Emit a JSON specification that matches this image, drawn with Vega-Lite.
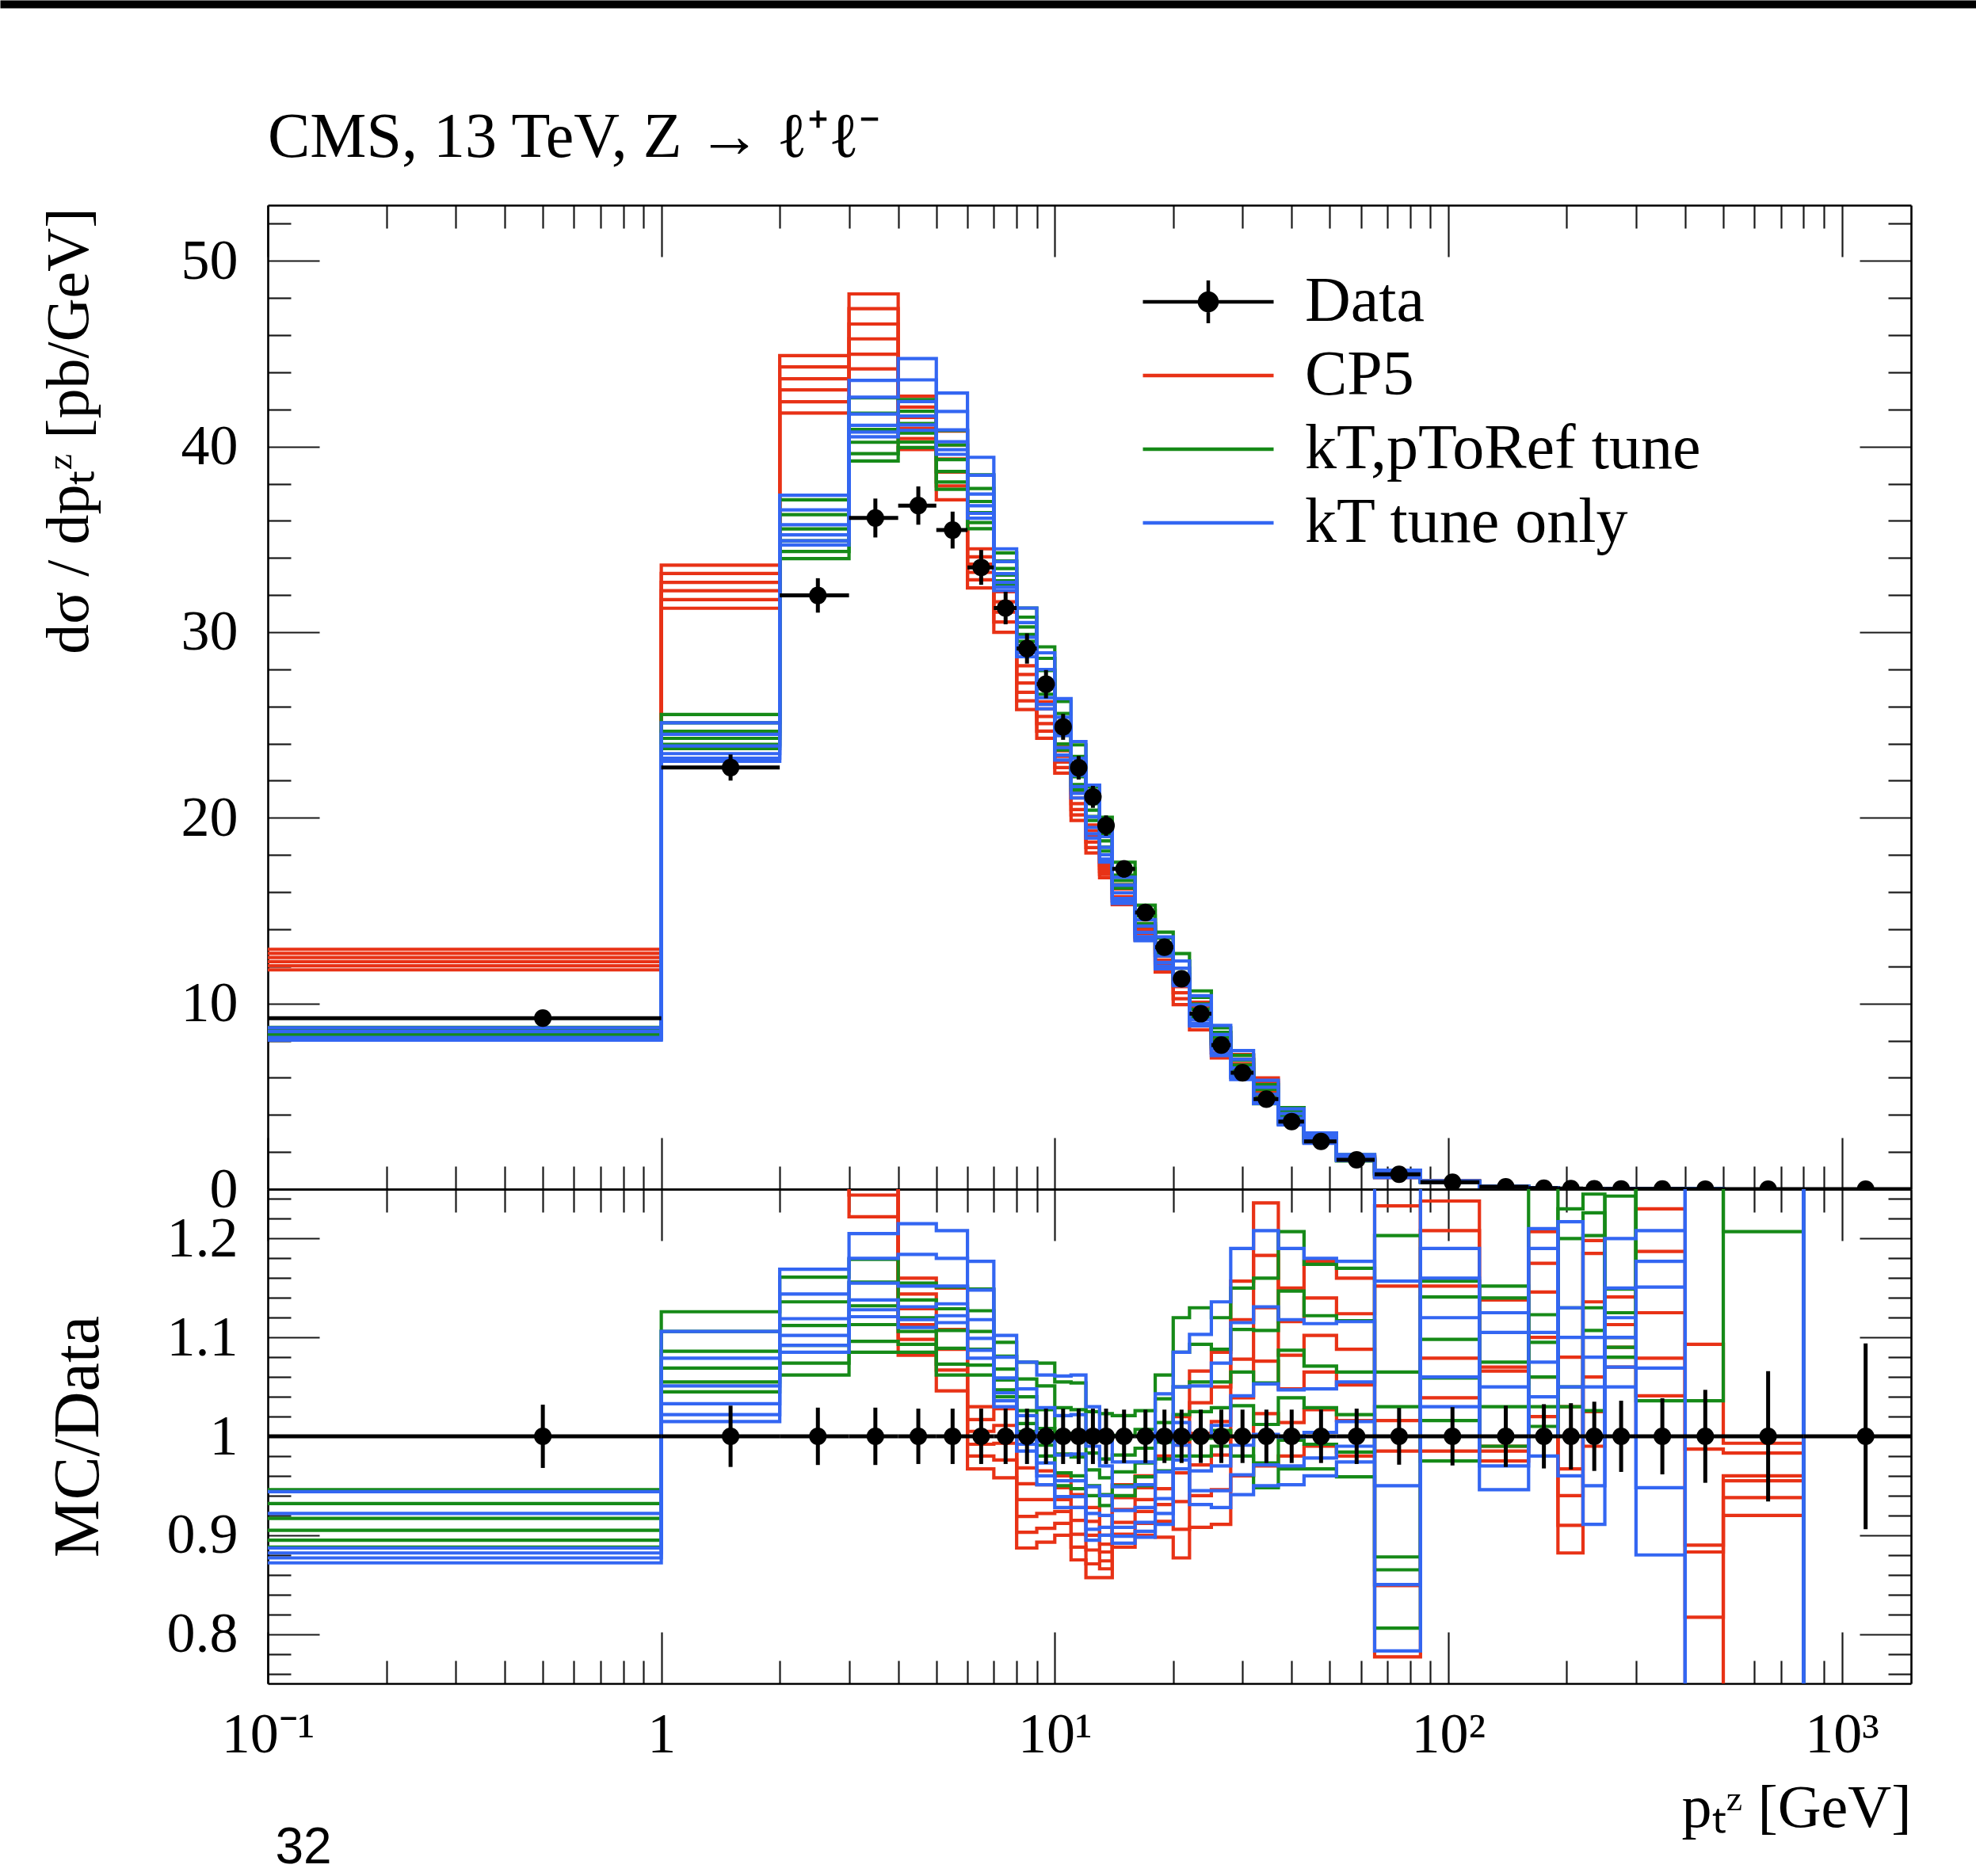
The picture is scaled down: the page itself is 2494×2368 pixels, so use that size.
{
  "$schema": "https://vega.github.io/schema/vega-lite/v6.json",
  "padding": {"left": 48, "top": 5, "right": 82, "bottom": 12},
  "background": "white",
  "bounds": "flush",
  "spacing": 0,
  "config": {
    "view": {"stroke": null},
    "font": "Liberation Serif",
    "axis": {
      "grid": false, "zindex": 1,
      "tickColor": "#1a1a1a", "tickWidth": 2.2,
      "domainColor": "black", "domainWidth": 2.6,
      "labelFont": "Liberation Serif", "labelFontSize": 72, "labelColor": "black",
      "labelFlush": false, "labelOverlap": false, "labelBound": false,
      "titleFont": "Liberation Serif", "titleFontSize": 76, "titleFontWeight": "normal", "titleColor": "black", "titlePadding": 0
    }
  },
  "datasets": {
    "bins": [
      {"b":0,"lo":0.1,"hi":1,"mid":0.5,"val":9.21,"err":0.295,"r":1,"rerr":0.032},
      {"b":1,"lo":1,"hi":2,"mid":1.5,"val":22.71,"err":0.704,"r":1,"rerr":0.031},
      {"b":2,"lo":2,"hi":3,"mid":2.5,"val":31.98,"err":0.927,"r":1,"rerr":0.029},
      {"b":3,"lo":3,"hi":4,"mid":3.5,"val":36.15,"err":1.048,"r":1,"rerr":0.029},
      {"b":4,"lo":4,"hi":5,"mid":4.5,"val":36.82,"err":1.031,"r":1,"rerr":0.028},
      {"b":5,"lo":5,"hi":6,"mid":5.5,"val":35.5,"err":0.994,"r":1,"rerr":0.028},
      {"b":6,"lo":6,"hi":7,"mid":6.5,"val":33.49,"err":0.938,"r":1,"rerr":0.028},
      {"b":7,"lo":7,"hi":8,"mid":7.5,"val":31.3,"err":0.876,"r":1,"rerr":0.028},
      {"b":8,"lo":8,"hi":9,"mid":8.5,"val":29.12,"err":0.815,"r":1,"rerr":0.028},
      {"b":9,"lo":9,"hi":10,"mid":9.5,"val":27.2,"err":0.762,"r":1,"rerr":0.028},
      {"b":10,"lo":10,"hi":11,"mid":10.5,"val":24.9,"err":0.697,"r":1,"rerr":0.028},
      {"b":11,"lo":11,"hi":12,"mid":11.5,"val":22.7,"err":0.636,"r":1,"rerr":0.028},
      {"b":12,"lo":12,"hi":13,"mid":12.5,"val":21.13,"err":0.592,"r":1,"rerr":0.028},
      {"b":13,"lo":13,"hi":14,"mid":13.5,"val":19.58,"err":0.548,"r":1,"rerr":0.028},
      {"b":14,"lo":14,"hi":16,"mid":15,"val":17.25,"err":0.466,"r":1,"rerr":0.027},
      {"b":15,"lo":16,"hi":18,"mid":17,"val":14.9,"err":0.402,"r":1,"rerr":0.027},
      {"b":16,"lo":18,"hi":20,"mid":19,"val":13.03,"err":0.352,"r":1,"rerr":0.027},
      {"b":17,"lo":20,"hi":22,"mid":21,"val":11.33,"err":0.306,"r":1,"rerr":0.027},
      {"b":18,"lo":22,"hi":25,"mid":23.5,"val":9.45,"err":0.255,"r":1,"rerr":0.027},
      {"b":19,"lo":25,"hi":28,"mid":26.5,"val":7.76,"err":0.21,"r":1,"rerr":0.027},
      {"b":20,"lo":28,"hi":32,"mid":30,"val":6.27,"err":0.169,"r":1,"rerr":0.027},
      {"b":21,"lo":32,"hi":37,"mid":34.5,"val":4.85,"err":0.131,"r":1,"rerr":0.027},
      {"b":22,"lo":37,"hi":43,"mid":40,"val":3.64,"err":0.098,"r":1,"rerr":0.027},
      {"b":23,"lo":43,"hi":52,"mid":47.5,"val":2.57,"err":0.069,"r":1,"rerr":0.027},
      {"b":24,"lo":52,"hi":65,"mid":58.5,"val":1.58,"err":0.044,"r":1,"rerr":0.028},
      {"b":25,"lo":65,"hi":85,"mid":75,"val":0.8,"err":0.023,"r":1,"rerr":0.0287},
      {"b":26,"lo":85,"hi":120,"mid":102.5,"val":0.37,"err":0.011,"r":1,"rerr":0.0295},
      {"b":27,"lo":120,"hi":160,"mid":140,"val":0.13,"err":0.004,"r":1,"rerr":0.031},
      {"b":28,"lo":160,"hi":190,"mid":175,"val":0.055,"err":0.0018,"r":1,"rerr":0.0325},
      {"b":29,"lo":190,"hi":220,"mid":205,"val":0.033,"err":0.0011,"r":1,"rerr":0.0335},
      {"b":30,"lo":220,"hi":250,"mid":235,"val":0.021,"err":0.0007,"r":1,"rerr":0.035},
      {"b":31,"lo":250,"hi":300,"mid":275,"val":0.013,"err":0.0005,"r":1,"rerr":0.036},
      {"b":32,"lo":300,"hi":400,"mid":350,"val":0.0058,"err":0.0002,"r":1,"rerr":0.0385},
      {"b":33,"lo":400,"hi":500,"mid":450,"val":0.0022,"err":0.0001,"r":1,"rerr":0.047},
      {"b":34,"lo":500,"hi":800,"mid":650,"val":0.00075,"err":0.00005,"r":1,"rerr":0.066},
      {"b":35,"lo":800,"hi":1500,"mid":1150,"val":0.00006,"err":0.000006,"r":1,"rerr":0.094}
    ],
    "mc": [
      {"t":"CP5","v":1,"b":0,"y":12.92,"r":1.403},{"t":"CP5","v":1,"b":1,"y":33.61,"r":1.48},{"t":"CP5","v":1,"b":2,"y":44.9,"r":1.404},{"t":"CP5","v":1,"b":3,"y":48.22,"r":1.334},{"t":"CP5","v":1,"b":4,"y":42.71,"r":1.16},{"t":"CP5","v":1,"b":5,"y":40.83,"r":1.15},{"t":"CP5","v":1,"b":6,"y":34.49,"r":1.03},{"t":"CP5","v":1,"b":7,"y":32.74,"r":1.046},{"t":"CP5","v":1,"b":8,"y":28.19,"r":0.968},{"t":"CP5","v":1,"b":9,"y":26.25,"r":0.965},{"t":"CP5","v":1,"b":10,"y":23.9,"r":0.96},{"t":"CP5","v":1,"b":11,"y":21.36,"r":0.941},{"t":"CP5","v":1,"b":12,"y":19.61,"r":0.928},{"t":"CP5","v":1,"b":13,"y":17.62,"r":0.9},{"t":"CP5","v":1,"b":14,"y":16.4,"r":0.951},{"t":"CP5","v":1,"b":15,"y":14.3,"r":0.96},{"t":"CP5","v":1,"b":16,"y":12.77,"r":0.98},{"t":"CP5","v":1,"b":17,"y":11.56,"r":1.02},{"t":"CP5","v":1,"b":18,"y":10.07,"r":1.066},{"t":"CP5","v":1,"b":19,"y":8.42,"r":1.085},{"t":"CP5","v":1,"b":20,"y":7.25,"r":1.157},{"t":"CP5","v":1,"b":21,"y":5.99,"r":1.236},{"t":"CP5","v":1,"b":22,"y":4.19,"r":1.15},{"t":"CP5","v":1,"b":23,"y":3.02,"r":1.177},{"t":"CP5","v":1,"b":24,"y":1.83,"r":1.16},{"t":"CP5","v":1,"b":25,"y":0.813,"r":1.016},{"t":"CP5","v":1,"b":26,"y":0.399,"r":1.079},{"t":"CP5","v":1,"b":27,"y":0.128,"r":0.985},{"t":"CP5","v":1,"b":28,"y":0.063,"r":1.146},{"t":"CP5","v":1,"b":29,"y":0.03,"r":0.91},{"t":"CP5","v":1,"b":30,"y":0.024,"r":1.136},{"t":"CP5","v":1,"b":31,"y":0.0142,"r":1.09},{"t":"CP5","v":1,"b":32,"y":0.00604,"r":1.041},{"t":"CP5","v":1,"b":33,"y":0.0024,"r":1.093},{"t":"CP5","v":1,"b":34,"y":0.000745,"r":0.993},{"t":"CP5","v":1,"b":35,"y":0,"r":0},
      {"t":"CP5","v":2,"b":0,"y":12.7,"r":1.379},{"t":"CP5","v":2,"b":1,"y":33.16,"r":1.46},{"t":"CP5","v":2,"b":2,"y":44.29,"r":1.385},{"t":"CP5","v":2,"b":3,"y":47.43,"r":1.312},{"t":"CP5","v":2,"b":4,"y":42.12,"r":1.144},{"t":"CP5","v":2,"b":5,"y":40.08,"r":1.129},{"t":"CP5","v":2,"b":6,"y":34.06,"r":1.017},{"t":"CP5","v":2,"b":7,"y":32.18,"r":1.028},{"t":"CP5","v":2,"b":8,"y":27.72,"r":0.952},{"t":"CP5","v":2,"b":9,"y":25.87,"r":0.951},{"t":"CP5","v":2,"b":10,"y":23.61,"r":0.948},{"t":"CP5","v":2,"b":11,"y":21.07,"r":0.928},{"t":"CP5","v":2,"b":12,"y":19.31,"r":0.914},{"t":"CP5","v":2,"b":13,"y":17.45,"r":0.891},{"t":"CP5","v":2,"b":14,"y":16.18,"r":0.938},{"t":"CP5","v":2,"b":15,"y":14.13,"r":0.948},{"t":"CP5","v":2,"b":16,"y":12.56,"r":0.964},{"t":"CP5","v":2,"b":17,"y":11.23,"r":0.991},{"t":"CP5","v":2,"b":18,"y":9.77,"r":1.034},{"t":"CP5","v":2,"b":19,"y":8.15,"r":1.05},{"t":"CP5","v":2,"b":20,"y":7.01,"r":1.118},{"t":"CP5","v":2,"b":21,"y":5.74,"r":1.183},{"t":"CP5","v":2,"b":22,"y":4.06,"r":1.116},{"t":"CP5","v":2,"b":23,"y":2.93,"r":1.14},{"t":"CP5","v":2,"b":24,"y":1.78,"r":1.124},{"t":"CP5","v":2,"b":25,"y":0.986,"r":1.233},{"t":"CP5","v":2,"b":26,"y":0.364,"r":0.985},{"t":"CP5","v":2,"b":27,"y":0.139,"r":1.066},{"t":"CP5","v":2,"b":28,"y":0.056,"r":1.02},{"t":"CP5","v":2,"b":29,"y":0.036,"r":1.08},{"t":"CP5","v":2,"b":30,"y":0.021,"r":0.99},{"t":"CP5","v":2,"b":31,"y":0.0148,"r":1.141},{"t":"CP5","v":2,"b":32,"y":0.00713,"r":1.23},{"t":"CP5","v":2,"b":33,"y":0.00217,"r":0.987},{"t":"CP5","v":2,"b":34,"y":0.000737,"r":0.983},{"t":"CP5","v":2,"b":35,"y":0,"r":0},
      {"t":"CP5","v":3,"b":0,"y":12.48,"r":1.355},{"t":"CP5","v":3,"b":1,"y":32.68,"r":1.439},{"t":"CP5","v":3,"b":2,"y":43.65,"r":1.365},{"t":"CP5","v":3,"b":3,"y":46.6,"r":1.289},{"t":"CP5","v":3,"b":4,"y":41.57,"r":1.129},{"t":"CP5","v":3,"b":5,"y":39.33,"r":1.108},{"t":"CP5","v":3,"b":6,"y":33.66,"r":1.005},{"t":"CP5","v":3,"b":7,"y":31.64,"r":1.011},{"t":"CP5","v":3,"b":8,"y":27.26,"r":0.936},{"t":"CP5","v":3,"b":9,"y":25.46,"r":0.936},{"t":"CP5","v":3,"b":10,"y":23.31,"r":0.936},{"t":"CP5","v":3,"b":11,"y":20.77,"r":0.915},{"t":"CP5","v":3,"b":12,"y":19.02,"r":0.9},{"t":"CP5","v":3,"b":13,"y":17.29,"r":0.883},{"t":"CP5","v":3,"b":14,"y":15.97,"r":0.926},{"t":"CP5","v":3,"b":15,"y":13.95,"r":0.936},{"t":"CP5","v":3,"b":16,"y":12.34,"r":0.947},{"t":"CP5","v":3,"b":17,"y":10.91,"r":0.963},{"t":"CP5","v":3,"b":18,"y":9.48,"r":1.003},{"t":"CP5","v":3,"b":19,"y":7.88,"r":1.015},{"t":"CP5","v":3,"b":20,"y":6.76,"r":1.078},{"t":"CP5","v":3,"b":21,"y":5.48,"r":1.13},{"t":"CP5","v":3,"b":22,"y":3.94,"r":1.082},{"t":"CP5","v":3,"b":23,"y":2.83,"r":1.102},{"t":"CP5","v":3,"b":24,"y":1.72,"r":1.088},{"t":"CP5","v":3,"b":25,"y":0.679,"r":0.849},{"t":"CP5","v":3,"b":26,"y":0.447,"r":1.208},{"t":"CP5","v":3,"b":27,"y":0.127,"r":0.975},{"t":"CP5","v":3,"b":28,"y":0.066,"r":1.207},{"t":"CP5","v":3,"b":29,"y":0.029,"r":0.882},{"t":"CP5","v":3,"b":30,"y":0.025,"r":1.198},{"t":"CP5","v":3,"b":31,"y":0.0139,"r":1.07},{"t":"CP5","v":3,"b":32,"y":0.0058,"r":1},{"t":"CP5","v":3,"b":33,"y":0.00196,"r":0.89},{"t":"CP5","v":3,"b":34,"y":0.00072,"r":0.96},{"t":"CP5","v":3,"b":35,"y":0,"r":0},
      {"t":"CP5","v":4,"b":0,"y":12.25,"r":1.33},{"t":"CP5","v":4,"b":1,"y":32.23,"r":1.419},{"t":"CP5","v":4,"b":2,"y":43.05,"r":1.346},{"t":"CP5","v":4,"b":3,"y":45.8,"r":1.267},{"t":"CP5","v":4,"b":4,"y":40.98,"r":1.113},{"t":"CP5","v":4,"b":5,"y":38.62,"r":1.088},{"t":"CP5","v":4,"b":6,"y":33.22,"r":0.992},{"t":"CP5","v":4,"b":7,"y":31.08,"r":0.993},{"t":"CP5","v":4,"b":8,"y":26.76,"r":0.919},{"t":"CP5","v":4,"b":9,"y":25.08,"r":0.922},{"t":"CP5","v":4,"b":10,"y":23.01,"r":0.924},{"t":"CP5","v":4,"b":11,"y":20.45,"r":0.901},{"t":"CP5","v":4,"b":12,"y":18.7,"r":0.885},{"t":"CP5","v":4,"b":13,"y":17.11,"r":0.874},{"t":"CP5","v":4,"b":14,"y":15.75,"r":0.913},{"t":"CP5","v":4,"b":15,"y":13.77,"r":0.924},{"t":"CP5","v":4,"b":16,"y":12.13,"r":0.931},{"t":"CP5","v":4,"b":17,"y":10.58,"r":0.934},{"t":"CP5","v":4,"b":18,"y":9.18,"r":0.971},{"t":"CP5","v":4,"b":19,"y":7.61,"r":0.981},{"t":"CP5","v":4,"b":20,"y":6.51,"r":1.039},{"t":"CP5","v":4,"b":21,"y":5.22,"r":1.076},{"t":"CP5","v":4,"b":22,"y":3.81,"r":1.048},{"t":"CP5","v":4,"b":23,"y":2.74,"r":1.065},{"t":"CP5","v":4,"b":24,"y":1.66,"r":1.052},{"t":"CP5","v":4,"b":25,"y":0.922,"r":1.152},{"t":"CP5","v":4,"b":26,"y":0.384,"r":1.039},{"t":"CP5","v":4,"b":27,"y":0.148,"r":1.138},{"t":"CP5","v":4,"b":28,"y":0.058,"r":1.06},{"t":"CP5","v":4,"b":29,"y":0.032,"r":0.967},{"t":"CP5","v":4,"b":30,"y":0.022,"r":1.025},{"t":"CP5","v":4,"b":31,"y":0.0145,"r":1.113},{"t":"CP5","v":4,"b":32,"y":0.00688,"r":1.187},{"t":"CP5","v":4,"b":33,"y":0.0018,"r":0.817},{"t":"CP5","v":4,"b":34,"y":0.000716,"r":0.955},{"t":"CP5","v":4,"b":35,"y":0,"r":0},
      {"t":"CP5","v":5,"b":0,"y":12.03,"r":1.306},{"t":"CP5","v":5,"b":1,"y":31.75,"r":1.398},{"t":"CP5","v":5,"b":2,"y":42.41,"r":1.326},{"t":"CP5","v":5,"b":3,"y":44.97,"r":1.244},{"t":"CP5","v":5,"b":4,"y":40.43,"r":1.098},{"t":"CP5","v":5,"b":5,"y":37.88,"r":1.067},{"t":"CP5","v":5,"b":6,"y":32.82,"r":0.98},{"t":"CP5","v":5,"b":7,"y":30.55,"r":0.976},{"t":"CP5","v":5,"b":8,"y":26.3,"r":0.903},{"t":"CP5","v":5,"b":9,"y":24.67,"r":0.907},{"t":"CP5","v":5,"b":10,"y":22.71,"r":0.912},{"t":"CP5","v":5,"b":11,"y":20.16,"r":0.888},{"t":"CP5","v":5,"b":12,"y":18.4,"r":0.871},{"t":"CP5","v":5,"b":13,"y":16.96,"r":0.866},{"t":"CP5","v":5,"b":14,"y":15.54,"r":0.901},{"t":"CP5","v":5,"b":15,"y":13.59,"r":0.912},{"t":"CP5","v":5,"b":16,"y":11.91,"r":0.914},{"t":"CP5","v":5,"b":17,"y":10.26,"r":0.906},{"t":"CP5","v":5,"b":18,"y":8.88,"r":0.94},{"t":"CP5","v":5,"b":19,"y":7.34,"r":0.946},{"t":"CP5","v":5,"b":20,"y":6.26,"r":0.999},{"t":"CP5","v":5,"b":21,"y":4.96,"r":1.023},{"t":"CP5","v":5,"b":22,"y":3.69,"r":1.014},{"t":"CP5","v":5,"b":23,"y":2.64,"r":1.027},{"t":"CP5","v":5,"b":24,"y":1.61,"r":1.016},{"t":"CP5","v":5,"b":25,"y":0.622,"r":0.777},{"t":"CP5","v":5,"b":26,"y":0.458,"r":1.238},{"t":"CP5","v":5,"b":27,"y":0.129,"r":0.99},{"t":"CP5","v":5,"b":28,"y":0.065,"r":1.175},{"t":"CP5","v":5,"b":29,"y":0.034,"r":1.03},{"t":"CP5","v":5,"b":30,"y":0.025,"r":1.185},{"t":"CP5","v":5,"b":31,"y":0.014,"r":1.08},{"t":"CP5","v":5,"b":32,"y":0.00626,"r":1.079},{"t":"CP5","v":5,"b":33,"y":0.00194,"r":0.883},{"t":"CP5","v":5,"b":34,"y":0.000704,"r":0.938},{"t":"CP5","v":5,"b":35,"y":0,"r":0},
      {"t":"CP5","v":6,"b":0,"y":11.81,"r":1.282},{"t":"CP5","v":6,"b":1,"y":31.29,"r":1.378},{"t":"CP5","v":6,"b":2,"y":41.8,"r":1.307},{"t":"CP5","v":6,"b":3,"y":44.18,"r":1.222},{"t":"CP5","v":6,"b":4,"y":39.84,"r":1.082},{"t":"CP5","v":6,"b":5,"y":37.13,"r":1.046},{"t":"CP5","v":6,"b":6,"y":32.38,"r":0.967},{"t":"CP5","v":6,"b":7,"y":29.99,"r":0.958},{"t":"CP5","v":6,"b":8,"y":25.83,"r":0.887},{"t":"CP5","v":6,"b":9,"y":24.29,"r":0.893},{"t":"CP5","v":6,"b":10,"y":22.41,"r":0.9},{"t":"CP5","v":6,"b":11,"y":19.86,"r":0.875},{"t":"CP5","v":6,"b":12,"y":18.11,"r":0.857},{"t":"CP5","v":6,"b":13,"y":16.78,"r":0.857},{"t":"CP5","v":6,"b":14,"y":15.32,"r":0.888},{"t":"CP5","v":6,"b":15,"y":13.41,"r":0.9},{"t":"CP5","v":6,"b":16,"y":11.7,"r":0.898},{"t":"CP5","v":6,"b":17,"y":9.94,"r":0.877},{"t":"CP5","v":6,"b":18,"y":8.58,"r":0.908},{"t":"CP5","v":6,"b":19,"y":7.07,"r":0.911},{"t":"CP5","v":6,"b":20,"y":6.02,"r":0.96},{"t":"CP5","v":6,"b":21,"y":4.7,"r":0.97},{"t":"CP5","v":6,"b":22,"y":3.57,"r":0.98},{"t":"CP5","v":6,"b":23,"y":2.54,"r":0.99},{"t":"CP5","v":6,"b":24,"y":1.55,"r":0.98},{"t":"CP5","v":6,"b":25,"y":0.788,"r":0.985},{"t":"CP5","v":6,"b":26,"y":0.426,"r":1.152},{"t":"CP5","v":6,"b":27,"y":0.139,"r":1.07},{"t":"CP5","v":6,"b":28,"y":0.061,"r":1.1},{"t":"CP5","v":6,"b":29,"y":0.031,"r":0.94},{"t":"CP5","v":6,"b":30,"y":0.022,"r":1.06},{"t":"CP5","v":6,"b":31,"y":0.0143,"r":1.1},{"t":"CP5","v":6,"b":32,"y":0.00653,"r":1.125},{"t":"CP5","v":6,"b":33,"y":0.00132,"r":0.6},{"t":"CP5","v":6,"b":34,"y":0.00069,"r":0.92},{"t":"CP5","v":6,"b":35,"y":0,"r":0},
      {"t":"kT,pToRef tune","v":1,"b":0,"y":8.71,"r":0.946},{"t":"kT,pToRef tune","v":1,"b":1,"y":25.57,"r":1.126},{"t":"kT,pToRef tune","v":1,"b":2,"y":37.13,"r":1.161},{"t":"kT,pToRef tune","v":1,"b":3,"y":42.62,"r":1.179},{"t":"kT,pToRef tune","v":1,"b":4,"y":42.53,"r":1.155},{"t":"kT,pToRef tune","v":1,"b":5,"y":40.86,"r":1.151},{"t":"kT,pToRef tune","v":1,"b":6,"y":38.48,"r":1.149},{"t":"kT,pToRef tune","v":1,"b":7,"y":34.27,"r":1.095},{"t":"kT,pToRef tune","v":1,"b":8,"y":31.3,"r":1.075},{"t":"kT,pToRef tune","v":1,"b":9,"y":29.21,"r":1.074},{"t":"kT,pToRef tune","v":1,"b":10,"y":26.27,"r":1.055},{"t":"kT,pToRef tune","v":1,"b":11,"y":23.93,"r":1.054},{"t":"kT,pToRef tune","v":1,"b":12,"y":21.66,"r":1.025},{"t":"kT,pToRef tune","v":1,"b":13,"y":20.03,"r":1.023},{"t":"kT,pToRef tune","v":1,"b":14,"y":17.61,"r":1.021},{"t":"kT,pToRef tune","v":1,"b":15,"y":15.29,"r":1.026},{"t":"kT,pToRef tune","v":1,"b":16,"y":13.84,"r":1.062},{"t":"kT,pToRef tune","v":1,"b":17,"y":12.69,"r":1.12},{"t":"kT,pToRef tune","v":1,"b":18,"y":10.68,"r":1.13},{"t":"kT,pToRef tune","v":1,"b":19,"y":8.69,"r":1.12},{"t":"kT,pToRef tune","v":1,"b":20,"y":7.21,"r":1.15},{"t":"kT,pToRef tune","v":1,"b":21,"y":5.63,"r":1.16},{"t":"kT,pToRef tune","v":1,"b":22,"y":4.39,"r":1.207},{"t":"kT,pToRef tune","v":1,"b":23,"y":3.02,"r":1.174},{"t":"kT,pToRef tune","v":1,"b":24,"y":1.85,"r":1.17},{"t":"kT,pToRef tune","v":1,"b":25,"y":0.852,"r":1.065},{"t":"kT,pToRef tune","v":1,"b":26,"y":0.422,"r":1.141},{"t":"kT,pToRef tune","v":1,"b":27,"y":0.15,"r":1.152},{"t":"kT,pToRef tune","v":1,"b":28,"y":0.057,"r":1.03},{"t":"kT,pToRef tune","v":1,"b":29,"y":0.04,"r":1.2},{"t":"kT,pToRef tune","v":1,"b":30,"y":0.026,"r":1.226},{"t":"kT,pToRef tune","v":1,"b":31,"y":0.0143,"r":1.1},{"t":"kT,pToRef tune","v":1,"b":32,"y":0.00754,"r":1.3},{"t":"kT,pToRef tune","v":1,"b":33,"y":0.00288,"r":1.31},{"t":"kT,pToRef tune","v":1,"b":34,"y":0.000905,"r":1.207},{"t":"kT,pToRef tune","v":1,"b":35,"y":0,"r":0},
      {"t":"kT,pToRef tune","v":2,"b":0,"y":8.58,"r":0.932},{"t":"kT,pToRef tune","v":2,"b":1,"y":25.12,"r":1.106},{"t":"kT,pToRef tune","v":2,"b":2,"y":36.33,"r":1.136},{"t":"kT,pToRef tune","v":2,"b":3,"y":41.79,"r":1.156},{"t":"kT,pToRef tune","v":2,"b":4,"y":41.9,"r":1.138},{"t":"kT,pToRef tune","v":2,"b":5,"y":40.08,"r":1.129},{"t":"kT,pToRef tune","v":2,"b":6,"y":37.74,"r":1.127},{"t":"kT,pToRef tune","v":2,"b":7,"y":33.84,"r":1.081},{"t":"kT,pToRef tune","v":2,"b":8,"y":30.81,"r":1.058},{"t":"kT,pToRef tune","v":2,"b":9,"y":28.59,"r":1.051},{"t":"kT,pToRef tune","v":2,"b":10,"y":25.62,"r":1.029},{"t":"kT,pToRef tune","v":2,"b":11,"y":23.31,"r":1.027},{"t":"kT,pToRef tune","v":2,"b":12,"y":21.21,"r":1.004},{"t":"kT,pToRef tune","v":2,"b":13,"y":19.58,"r":1},{"t":"kT,pToRef tune","v":2,"b":14,"y":17.27,"r":1.001},{"t":"kT,pToRef tune","v":2,"b":15,"y":15,"r":1.007},{"t":"kT,pToRef tune","v":2,"b":16,"y":13.53,"r":1.038},{"t":"kT,pToRef tune","v":2,"b":17,"y":12.29,"r":1.085},{"t":"kT,pToRef tune","v":2,"b":18,"y":10.33,"r":1.093},{"t":"kT,pToRef tune","v":2,"b":19,"y":8.44,"r":1.088},{"t":"kT,pToRef tune","v":2,"b":20,"y":6.95,"r":1.108},{"t":"kT,pToRef tune","v":2,"b":21,"y":5.37,"r":1.107},{"t":"kT,pToRef tune","v":2,"b":22,"y":4.18,"r":1.147},{"t":"kT,pToRef tune","v":2,"b":23,"y":2.88,"r":1.122},{"t":"kT,pToRef tune","v":2,"b":24,"y":1.76,"r":1.117},{"t":"kT,pToRef tune","v":2,"b":25,"y":0.702,"r":0.878},{"t":"kT,pToRef tune","v":2,"b":26,"y":0.376,"r":1.016},{"t":"kT,pToRef tune","v":2,"b":27,"y":0.13,"r":1},{"t":"kT,pToRef tune","v":2,"b":28,"y":0.07,"r":1.28},{"t":"kT,pToRef tune","v":2,"b":29,"y":0.035,"r":1.05},{"t":"kT,pToRef tune","v":2,"b":30,"y":0.023,"r":1.107},{"t":"kT,pToRef tune","v":2,"b":31,"y":0.0162,"r":1.243},{"t":"kT,pToRef tune","v":2,"b":32,"y":0.00601,"r":1.036},{"t":"kT,pToRef tune","v":2,"b":33,"y":0.00228,"r":1.036},{"t":"kT,pToRef tune","v":2,"b":34,"y":0.000975,"r":1.3},{"t":"kT,pToRef tune","v":2,"b":35,"y":0,"r":0},
      {"t":"kT,pToRef tune","v":3,"b":0,"y":8.45,"r":0.917},{"t":"kT,pToRef tune","v":3,"b":1,"y":24.66,"r":1.086},{"t":"kT,pToRef tune","v":3,"b":2,"y":35.56,"r":1.112},{"t":"kT,pToRef tune","v":3,"b":3,"y":40.92,"r":1.132},{"t":"kT,pToRef tune","v":3,"b":4,"y":41.24,"r":1.12},{"t":"kT,pToRef tune","v":3,"b":5,"y":39.3,"r":1.107},{"t":"kT,pToRef tune","v":3,"b":6,"y":37.04,"r":1.106},{"t":"kT,pToRef tune","v":3,"b":7,"y":33.43,"r":1.068},{"t":"kT,pToRef tune","v":3,"b":8,"y":30.28,"r":1.04},{"t":"kT,pToRef tune","v":3,"b":9,"y":27.93,"r":1.027},{"t":"kT,pToRef tune","v":3,"b":10,"y":24.97,"r":1.003},{"t":"kT,pToRef tune","v":3,"b":11,"y":22.72,"r":1.001},{"t":"kT,pToRef tune","v":3,"b":12,"y":20.77,"r":0.983},{"t":"kT,pToRef tune","v":3,"b":13,"y":19.13,"r":0.977},{"t":"kT,pToRef tune","v":3,"b":14,"y":16.92,"r":0.981},{"t":"kT,pToRef tune","v":3,"b":15,"y":14.72,"r":0.988},{"t":"kT,pToRef tune","v":3,"b":16,"y":13.21,"r":1.014},{"t":"kT,pToRef tune","v":3,"b":17,"y":11.9,"r":1.05},{"t":"kT,pToRef tune","v":3,"b":18,"y":9.97,"r":1.055},{"t":"kT,pToRef tune","v":3,"b":19,"y":8.19,"r":1.055},{"t":"kT,pToRef tune","v":3,"b":20,"y":6.68,"r":1.065},{"t":"kT,pToRef tune","v":3,"b":21,"y":5.11,"r":1.054},{"t":"kT,pToRef tune","v":3,"b":22,"y":3.96,"r":1.087},{"t":"kT,pToRef tune","v":3,"b":23,"y":2.75,"r":1.071},{"t":"kT,pToRef tune","v":3,"b":24,"y":1.68,"r":1.065},{"t":"kT,pToRef tune","v":3,"b":25,"y":0.962,"r":1.203},{"t":"kT,pToRef tune","v":3,"b":26,"y":0.361,"r":0.975},{"t":"kT,pToRef tune","v":3,"b":27,"y":0.14,"r":1.075},{"t":"kT,pToRef tune","v":3,"b":28,"y":0.058,"r":1.06},{"t":"kT,pToRef tune","v":3,"b":29,"y":0.041,"r":1.23},{"t":"kT,pToRef tune","v":3,"b":30,"y":0.026,"r":1.245},{"t":"kT,pToRef tune","v":3,"b":31,"y":0.014,"r":1.08},{"t":"kT,pToRef tune","v":3,"b":32,"y":0.00742,"r":1.28},{"t":"kT,pToRef tune","v":3,"b":33,"y":0.00286,"r":1.3},{"t":"kT,pToRef tune","v":3,"b":34,"y":0.00096,"r":1.28},{"t":"kT,pToRef tune","v":3,"b":35,"y":0,"r":0},
      {"t":"kT,pToRef tune","v":4,"b":0,"y":8.34,"r":0.905},{"t":"kT,pToRef tune","v":4,"b":1,"y":24.28,"r":1.069},{"t":"kT,pToRef tune","v":4,"b":2,"y":34.92,"r":1.092},{"t":"kT,pToRef tune","v":4,"b":3,"y":40.23,"r":1.113},{"t":"kT,pToRef tune","v":4,"b":4,"y":40.72,"r":1.106},{"t":"kT,pToRef tune","v":4,"b":5,"y":38.66,"r":1.089},{"t":"kT,pToRef tune","v":4,"b":6,"y":36.44,"r":1.088},{"t":"kT,pToRef tune","v":4,"b":7,"y":33.08,"r":1.057},{"t":"kT,pToRef tune","v":4,"b":8,"y":29.88,"r":1.026},{"t":"kT,pToRef tune","v":4,"b":9,"y":27.42,"r":1.008},{"t":"kT,pToRef tune","v":4,"b":10,"y":24.45,"r":0.982},{"t":"kT,pToRef tune","v":4,"b":11,"y":22.22,"r":0.979},{"t":"kT,pToRef tune","v":4,"b":12,"y":20.41,"r":0.966},{"t":"kT,pToRef tune","v":4,"b":13,"y":18.76,"r":0.958},{"t":"kT,pToRef tune","v":4,"b":14,"y":16.63,"r":0.964},{"t":"kT,pToRef tune","v":4,"b":15,"y":14.5,"r":0.973},{"t":"kT,pToRef tune","v":4,"b":16,"y":12.95,"r":0.994},{"t":"kT,pToRef tune","v":4,"b":17,"y":11.58,"r":1.022},{"t":"kT,pToRef tune","v":4,"b":18,"y":9.69,"r":1.025},{"t":"kT,pToRef tune","v":4,"b":19,"y":7.99,"r":1.029},{"t":"kT,pToRef tune","v":4,"b":20,"y":6.46,"r":1.031},{"t":"kT,pToRef tune","v":4,"b":21,"y":4.91,"r":1.012},{"t":"kT,pToRef tune","v":4,"b":22,"y":3.78,"r":1.039},{"t":"kT,pToRef tune","v":4,"b":23,"y":2.64,"r":1.029},{"t":"kT,pToRef tune","v":4,"b":24,"y":1.61,"r":1.022},{"t":"kT,pToRef tune","v":4,"b":25,"y":0.692,"r":0.865},{"t":"kT,pToRef tune","v":4,"b":26,"y":0.428,"r":1.157},{"t":"kT,pToRef tune","v":4,"b":27,"y":0.129,"r":0.99},{"t":"kT,pToRef tune","v":4,"b":28,"y":0.062,"r":1.123},{"t":"kT,pToRef tune","v":4,"b":29,"y":0.033,"r":1},{"t":"kT,pToRef tune","v":4,"b":30,"y":0.022,"r":1.026},{"t":"kT,pToRef tune","v":4,"b":31,"y":0.0149,"r":1.149},{"t":"kT,pToRef tune","v":4,"b":32,"y":0.00766,"r":1.32},{"t":"kT,pToRef tune","v":4,"b":33,"y":0.00297,"r":1.35},{"t":"kT,pToRef tune","v":4,"b":34,"y":0.00099,"r":1.32},{"t":"kT,pToRef tune","v":4,"b":35,"y":0,"r":0},
      {"t":"kT,pToRef tune","v":5,"b":0,"y":8.24,"r":0.895},{"t":"kT,pToRef tune","v":5,"b":1,"y":23.96,"r":1.055},{"t":"kT,pToRef tune","v":5,"b":2,"y":34.35,"r":1.074},{"t":"kT,pToRef tune","v":5,"b":3,"y":39.62,"r":1.096},{"t":"kT,pToRef tune","v":5,"b":4,"y":40.24,"r":1.093},{"t":"kT,pToRef tune","v":5,"b":5,"y":38.09,"r":1.073},{"t":"kT,pToRef tune","v":5,"b":6,"y":35.9,"r":1.072},{"t":"kT,pToRef tune","v":5,"b":7,"y":32.77,"r":1.047},{"t":"kT,pToRef tune","v":5,"b":8,"y":29.5,"r":1.013},{"t":"kT,pToRef tune","v":5,"b":9,"y":26.96,"r":0.991},{"t":"kT,pToRef tune","v":5,"b":10,"y":23.98,"r":0.963},{"t":"kT,pToRef tune","v":5,"b":11,"y":21.79,"r":0.96},{"t":"kT,pToRef tune","v":5,"b":12,"y":20.07,"r":0.95},{"t":"kT,pToRef tune","v":5,"b":13,"y":18.42,"r":0.941},{"t":"kT,pToRef tune","v":5,"b":14,"y":16.39,"r":0.95},{"t":"kT,pToRef tune","v":5,"b":15,"y":14.29,"r":0.959},{"t":"kT,pToRef tune","v":5,"b":16,"y":12.73,"r":0.977},{"t":"kT,pToRef tune","v":5,"b":17,"y":11.3,"r":0.997},{"t":"kT,pToRef tune","v":5,"b":18,"y":9.43,"r":0.998},{"t":"kT,pToRef tune","v":5,"b":19,"y":7.81,"r":1.006},{"t":"kT,pToRef tune","v":5,"b":20,"y":6.27,"r":1},{"t":"kT,pToRef tune","v":5,"b":21,"y":4.72,"r":0.973},{"t":"kT,pToRef tune","v":5,"b":22,"y":3.63,"r":0.996},{"t":"kT,pToRef tune","v":5,"b":23,"y":2.55,"r":0.992},{"t":"kT,pToRef tune","v":5,"b":24,"y":1.55,"r":0.984},{"t":"kT,pToRef tune","v":5,"b":25,"y":0.824,"r":1.03},{"t":"kT,pToRef tune","v":5,"b":26,"y":0.392,"r":1.059},{"t":"kT,pToRef tune","v":5,"b":27,"y":0.148,"r":1.14},{"t":"kT,pToRef tune","v":5,"b":28,"y":0.056,"r":1.01},{"t":"kT,pToRef tune","v":5,"b":29,"y":0.037,"r":1.13},{"t":"kT,pToRef tune","v":5,"b":30,"y":0.025,"r":1.203},{"t":"kT,pToRef tune","v":5,"b":31,"y":0.0142,"r":1.09},{"t":"kT,pToRef tune","v":5,"b":32,"y":0.00737,"r":1.27},{"t":"kT,pToRef tune","v":5,"b":33,"y":0.00284,"r":1.29},{"t":"kT,pToRef tune","v":5,"b":34,"y":0.000983,"r":1.31},{"t":"kT,pToRef tune","v":5,"b":35,"y":0,"r":0},
      {"t":"kT,pToRef tune","v":6,"b":0,"y":8.18,"r":0.888},{"t":"kT,pToRef tune","v":6,"b":1,"y":23.73,"r":1.045},{"t":"kT,pToRef tune","v":6,"b":2,"y":33.96,"r":1.062},{"t":"kT,pToRef tune","v":6,"b":3,"y":39.22,"r":1.085},{"t":"kT,pToRef tune","v":6,"b":4,"y":39.95,"r":1.085},{"t":"kT,pToRef tune","v":6,"b":5,"y":37.7,"r":1.062},{"t":"kT,pToRef tune","v":6,"b":6,"y":35.57,"r":1.062},{"t":"kT,pToRef tune","v":6,"b":7,"y":32.55,"r":1.04},{"t":"kT,pToRef tune","v":6,"b":8,"y":29.27,"r":1.005},{"t":"kT,pToRef tune","v":6,"b":9,"y":26.66,"r":0.98},{"t":"kT,pToRef tune","v":6,"b":10,"y":23.66,"r":0.95},{"t":"kT,pToRef tune","v":6,"b":11,"y":21.5,"r":0.947},{"t":"kT,pToRef tune","v":6,"b":12,"y":19.86,"r":0.94},{"t":"kT,pToRef tune","v":6,"b":13,"y":18.21,"r":0.93},{"t":"kT,pToRef tune","v":6,"b":14,"y":16.22,"r":0.94},{"t":"kT,pToRef tune","v":6,"b":15,"y":14.16,"r":0.95},{"t":"kT,pToRef tune","v":6,"b":16,"y":12.57,"r":0.965},{"t":"kT,pToRef tune","v":6,"b":17,"y":11.1,"r":0.98},{"t":"kT,pToRef tune","v":6,"b":18,"y":9.26,"r":0.98},{"t":"kT,pToRef tune","v":6,"b":19,"y":7.68,"r":0.99},{"t":"kT,pToRef tune","v":6,"b":20,"y":6.14,"r":0.98},{"t":"kT,pToRef tune","v":6,"b":21,"y":4.6,"r":0.948},{"t":"kT,pToRef tune","v":6,"b":22,"y":3.52,"r":0.967},{"t":"kT,pToRef tune","v":6,"b":23,"y":2.49,"r":0.967},{"t":"kT,pToRef tune","v":6,"b":24,"y":1.52,"r":0.959},{"t":"kT,pToRef tune","v":6,"b":25,"y":0.645,"r":0.806},{"t":"kT,pToRef tune","v":6,"b":26,"y":0.406,"r":1.098},{"t":"kT,pToRef tune","v":6,"b":27,"y":0.134,"r":1.03},{"t":"kT,pToRef tune","v":6,"b":28,"y":0.06,"r":1.095},{"t":"kT,pToRef tune","v":6,"b":29,"y":0.034,"r":1.03},{"t":"kT,pToRef tune","v":6,"b":30,"y":0.024,"r":1.13},{"t":"kT,pToRef tune","v":6,"b":31,"y":0.0146,"r":1.125},{"t":"kT,pToRef tune","v":6,"b":32,"y":0.00748,"r":1.29},{"t":"kT,pToRef tune","v":6,"b":33,"y":0.0029,"r":1.32},{"t":"kT,pToRef tune","v":6,"b":34,"y":0.000968,"r":1.29},{"t":"kT,pToRef tune","v":6,"b":35,"y":0,"r":0},
      {"t":"kT tune only","v":1,"b":0,"y":8.69,"r":0.944},{"t":"kT tune only","v":1,"b":1,"y":25.12,"r":1.106},{"t":"kT tune only","v":1,"b":2,"y":37.38,"r":1.169},{"t":"kT tune only","v":1,"b":3,"y":43.56,"r":1.205},{"t":"kT tune only","v":1,"b":4,"y":44.74,"r":1.215},{"t":"kT tune only","v":1,"b":5,"y":42.88,"r":1.208},{"t":"kT tune only","v":1,"b":6,"y":39.42,"r":1.177},{"t":"kT tune only","v":1,"b":7,"y":34.49,"r":1.102},{"t":"kT tune only","v":1,"b":8,"y":31.3,"r":1.075},{"t":"kT tune only","v":1,"b":9,"y":28.89,"r":1.062},{"t":"kT tune only","v":1,"b":10,"y":26.42,"r":1.061},{"t":"kT tune only","v":1,"b":11,"y":24.11,"r":1.062},{"t":"kT tune only","v":1,"b":12,"y":21.76,"r":1.03},{"t":"kT tune only","v":1,"b":13,"y":19.58,"r":1},{"t":"kT tune only","v":1,"b":14,"y":16.8,"r":0.974},{"t":"kT tune only","v":1,"b":15,"y":14.51,"r":0.974},{"t":"kT tune only","v":1,"b":16,"y":13.59,"r":1.043},{"t":"kT tune only","v":1,"b":17,"y":12.29,"r":1.085},{"t":"kT tune only","v":1,"b":18,"y":10.42,"r":1.103},{"t":"kT tune only","v":1,"b":19,"y":8.82,"r":1.136},{"t":"kT tune only","v":1,"b":20,"y":7.46,"r":1.19},{"t":"kT tune only","v":1,"b":21,"y":5.86,"r":1.208},{"t":"kT tune only","v":1,"b":22,"y":4.33,"r":1.19},{"t":"kT tune only","v":1,"b":23,"y":3.03,"r":1.18},{"t":"kT tune only","v":1,"b":24,"y":1.86,"r":1.177},{"t":"kT tune only","v":1,"b":25,"y":0.926,"r":1.157},{"t":"kT tune only","v":1,"b":26,"y":0.381,"r":1.03},{"t":"kT tune only","v":1,"b":27,"y":0.144,"r":1.105},{"t":"kT tune only","v":1,"b":28,"y":0.067,"r":1.21},{"t":"kT tune only","v":1,"b":29,"y":0.036,"r":1.1},{"t":"kT tune only","v":1,"b":30,"y":0.02,"r":0.95},{"t":"kT tune only","v":1,"b":31,"y":0.0156,"r":1.2},{"t":"kT tune only","v":1,"b":32,"y":0.00701,"r":1.208},{"t":"kT tune only","v":1,"b":33,"y":0.00308,"r":1.4},{"t":"kT tune only","v":1,"b":34,"y":0.00101,"r":1.35},{"t":"kT tune only","v":1,"b":35,"y":0,"r":0},
      {"t":"kT tune only","v":2,"b":0,"y":8.49,"r":0.922},{"t":"kT tune only","v":2,"b":1,"y":24.5,"r":1.079},{"t":"kT tune only","v":2,"b":2,"y":36.59,"r":1.144},{"t":"kT tune only","v":2,"b":3,"y":42.66,"r":1.18},{"t":"kT tune only","v":2,"b":4,"y":43.59,"r":1.184},{"t":"kT tune only","v":2,"b":5,"y":41.89,"r":1.18},{"t":"kT tune only","v":2,"b":6,"y":38.45,"r":1.148},{"t":"kT tune only","v":2,"b":7,"y":33.8,"r":1.08},{"t":"kT tune only","v":2,"b":8,"y":30.52,"r":1.048},{"t":"kT tune only","v":2,"b":9,"y":27.99,"r":1.029},{"t":"kT tune only","v":2,"b":10,"y":25.42,"r":1.021},{"t":"kT tune only","v":2,"b":11,"y":23.2,"r":1.022},{"t":"kT tune only","v":2,"b":12,"y":20.92,"r":0.99},{"t":"kT tune only","v":2,"b":13,"y":18.99,"r":0.97},{"t":"kT tune only","v":2,"b":14,"y":16.37,"r":0.949},{"t":"kT tune only","v":2,"b":15,"y":14.17,"r":0.951},{"t":"kT tune only","v":2,"b":16,"y":13.07,"r":1.003},{"t":"kT tune only","v":2,"b":17,"y":11.9,"r":1.05},{"t":"kT tune only","v":2,"b":18,"y":9.93,"r":1.051},{"t":"kT tune only","v":2,"b":19,"y":8.33,"r":1.074},{"t":"kT tune only","v":2,"b":20,"y":6.99,"r":1.115},{"t":"kT tune only","v":2,"b":21,"y":5.49,"r":1.131},{"t":"kT tune only","v":2,"b":22,"y":4.07,"r":1.118},{"t":"kT tune only","v":2,"b":23,"y":2.86,"r":1.114},{"t":"kT tune only","v":2,"b":24,"y":1.76,"r":1.116},{"t":"kT tune only","v":2,"b":25,"y":0.76,"r":0.95},{"t":"kT tune only","v":2,"b":26,"y":0.44,"r":1.19},{"t":"kT tune only","v":2,"b":27,"y":0.123,"r":0.946},{"t":"kT tune only","v":2,"b":28,"y":0.057,"r":1.04},{"t":"kT tune only","v":2,"b":29,"y":0.04,"r":1.217},{"t":"kT tune only","v":2,"b":30,"y":0.023,"r":1.1},{"t":"kT tune only","v":2,"b":31,"y":0.0139,"r":1.07},{"t":"kT tune only","v":2,"b":32,"y":0.0055,"r":0.948},{"t":"kT tune only","v":2,"b":33,"y":0.00132,"r":0.6},{"t":"kT tune only","v":2,"b":34,"y":0.000375,"r":0.5},{"t":"kT tune only","v":2,"b":35,"y":0,"r":0},
      {"t":"kT tune only","v":3,"b":0,"y":8.17,"r":0.887},{"t":"kT tune only","v":3,"b":1,"y":23.87,"r":1.051},{"t":"kT tune only","v":3,"b":2,"y":35.79,"r":1.119},{"t":"kT tune only","v":3,"b":3,"y":41.75,"r":1.155},{"t":"kT tune only","v":3,"b":4,"y":42.42,"r":1.152},{"t":"kT tune only","v":3,"b":5,"y":40.9,"r":1.152},{"t":"kT tune only","v":3,"b":6,"y":37.44,"r":1.118},{"t":"kT tune only","v":3,"b":7,"y":33.15,"r":1.059},{"t":"kT tune only","v":3,"b":8,"y":29.73,"r":1.021},{"t":"kT tune only","v":3,"b":9,"y":27.06,"r":0.995},{"t":"kT tune only","v":3,"b":10,"y":24.43,"r":0.981},{"t":"kT tune only","v":3,"b":11,"y":22.29,"r":0.982},{"t":"kT tune only","v":3,"b":12,"y":20.05,"r":0.949},{"t":"kT tune only","v":3,"b":13,"y":18.41,"r":0.94},{"t":"kT tune only","v":3,"b":14,"y":15.96,"r":0.925},{"t":"kT tune only","v":3,"b":15,"y":13.83,"r":0.928},{"t":"kT tune only","v":3,"b":16,"y":12.56,"r":0.964},{"t":"kT tune only","v":3,"b":17,"y":11.49,"r":1.014},{"t":"kT tune only","v":3,"b":18,"y":9.45,"r":1},{"t":"kT tune only","v":3,"b":19,"y":7.85,"r":1.011},{"t":"kT tune only","v":3,"b":20,"y":6.53,"r":1.041},{"t":"kT tune only","v":3,"b":21,"y":5.11,"r":1.053},{"t":"kT tune only","v":3,"b":22,"y":3.81,"r":1.047},{"t":"kT tune only","v":3,"b":23,"y":2.69,"r":1.048},{"t":"kT tune only","v":3,"b":24,"y":1.67,"r":1.055},{"t":"kT tune only","v":3,"b":25,"y":1.024,"r":1.28},{"t":"kT tune only","v":3,"b":26,"y":0.37,"r":1},{"t":"kT tune only","v":3,"b":27,"y":0.137,"r":1.05},{"t":"kT tune only","v":3,"b":28,"y":0.054,"r":0.98},{"t":"kT tune only","v":3,"b":29,"y":0.032,"r":0.96},{"t":"kT tune only","v":3,"b":30,"y":0.019,"r":0.911},{"t":"kT tune only","v":3,"b":31,"y":0.015,"r":1.15},{"t":"kT tune only","v":3,"b":32,"y":0.00668,"r":1.151},{"t":"kT tune only","v":3,"b":33,"y":0.00297,"r":1.35},{"t":"kT tune only","v":3,"b":34,"y":0.00105,"r":1.4},{"t":"kT tune only","v":3,"b":35,"y":0,"r":0},
      {"t":"kT tune only","v":4,"b":0,"y":8.12,"r":0.882},{"t":"kT tune only","v":4,"b":1,"y":23.46,"r":1.033},{"t":"kT tune only","v":4,"b":2,"y":35.24,"r":1.102},{"t":"kT tune only","v":4,"b":3,"y":41.14,"r":1.138},{"t":"kT tune only","v":4,"b":4,"y":41.64,"r":1.131},{"t":"kT tune only","v":4,"b":5,"y":40.26,"r":1.134},{"t":"kT tune only","v":4,"b":6,"y":36.81,"r":1.099},{"t":"kT tune only","v":4,"b":7,"y":32.68,"r":1.044},{"t":"kT tune only","v":4,"b":8,"y":29.21,"r":1.003},{"t":"kT tune only","v":4,"b":9,"y":26.47,"r":0.973},{"t":"kT tune only","v":4,"b":10,"y":23.78,"r":0.955},{"t":"kT tune only","v":4,"b":11,"y":21.68,"r":0.955},{"t":"kT tune only","v":4,"b":12,"y":19.48,"r":0.922},{"t":"kT tune only","v":4,"b":13,"y":18.01,"r":0.92},{"t":"kT tune only","v":4,"b":14,"y":15.66,"r":0.908},{"t":"kT tune only","v":4,"b":15,"y":13.6,"r":0.913},{"t":"kT tune only","v":4,"b":16,"y":12.21,"r":0.937},{"t":"kT tune only","v":4,"b":17,"y":11.23,"r":0.991},{"t":"kT tune only","v":4,"b":18,"y":9.12,"r":0.965},{"t":"kT tune only","v":4,"b":19,"y":7.53,"r":0.97},{"t":"kT tune only","v":4,"b":20,"y":6.21,"r":0.991},{"t":"kT tune only","v":4,"b":21,"y":4.86,"r":1.002},{"t":"kT tune only","v":4,"b":22,"y":3.64,"r":0.999},{"t":"kT tune only","v":4,"b":23,"y":2.58,"r":1.004},{"t":"kT tune only","v":4,"b":24,"y":1.6,"r":1.015},{"t":"kT tune only","v":4,"b":25,"y":0.626,"r":0.783},{"t":"kT tune only","v":4,"b":26,"y":0.414,"r":1.12},{"t":"kT tune only","v":4,"b":27,"y":0.146,"r":1.125},{"t":"kT tune only","v":4,"b":28,"y":0.065,"r":1.19},{"t":"kT tune only","v":4,"b":29,"y":0.035,"r":1.05},{"t":"kT tune only","v":4,"b":30,"y":0.022,"r":1.05},{"t":"kT tune only","v":4,"b":31,"y":0.0137,"r":1.05},{"t":"kT tune only","v":4,"b":32,"y":0.0051,"r":0.88},{"t":"kT tune only","v":4,"b":33,"y":0.00143,"r":0.65},{"t":"kT tune only","v":4,"b":34,"y":0.000413,"r":0.55},{"t":"kT tune only","v":4,"b":35,"y":0,"r":0},
      {"t":"kT tune only","v":5,"b":0,"y":8.08,"r":0.877},{"t":"kT tune only","v":5,"b":1,"y":23.21,"r":1.022},{"t":"kT tune only","v":5,"b":2,"y":34.92,"r":1.092},{"t":"kT tune only","v":5,"b":3,"y":40.78,"r":1.128},{"t":"kT tune only","v":5,"b":4,"y":41.16,"r":1.118},{"t":"kT tune only","v":5,"b":5,"y":39.83,"r":1.122},{"t":"kT tune only","v":5,"b":6,"y":36.4,"r":1.087},{"t":"kT tune only","v":5,"b":7,"y":32.43,"r":1.036},{"t":"kT tune only","v":5,"b":8,"y":28.89,"r":0.992},{"t":"kT tune only","v":5,"b":9,"y":26.11,"r":0.96},{"t":"kT tune only","v":5,"b":10,"y":23.38,"r":0.939},{"t":"kT tune only","v":5,"b":11,"y":21.32,"r":0.939},{"t":"kT tune only","v":5,"b":12,"y":19.14,"r":0.906},{"t":"kT tune only","v":5,"b":13,"y":17.78,"r":0.908},{"t":"kT tune only","v":5,"b":14,"y":15.51,"r":0.899},{"t":"kT tune only","v":5,"b":15,"y":13.47,"r":0.904},{"t":"kT tune only","v":5,"b":16,"y":12.01,"r":0.922},{"t":"kT tune only","v":5,"b":17,"y":11.06,"r":0.976},{"t":"kT tune only","v":5,"b":18,"y":8.93,"r":0.945},{"t":"kT tune only","v":5,"b":19,"y":7.33,"r":0.945},{"t":"kT tune only","v":5,"b":20,"y":6.03,"r":0.961},{"t":"kT tune only","v":5,"b":21,"y":4.71,"r":0.971},{"t":"kT tune only","v":5,"b":22,"y":3.53,"r":0.97},{"t":"kT tune only","v":5,"b":23,"y":2.51,"r":0.978},{"t":"kT tune only","v":5,"b":24,"y":1.56,"r":0.99},{"t":"kT tune only","v":5,"b":25,"y":0.8,"r":1},{"t":"kT tune only","v":5,"b":26,"y":0.392,"r":1.06},{"t":"kT tune only","v":5,"b":27,"y":0.126,"r":0.97},{"t":"kT tune only","v":5,"b":28,"y":0.059,"r":1.075},{"t":"kT tune only","v":5,"b":29,"y":0.037,"r":1.13},{"t":"kT tune only","v":5,"b":30,"y":0.021,"r":1},{"t":"kT tune only","v":5,"b":31,"y":0.0146,"r":1.12},{"t":"kT tune only","v":5,"b":32,"y":0.0062,"r":1.069},{"t":"kT tune only","v":5,"b":33,"y":0.00286,"r":1.3},{"t":"kT tune only","v":5,"b":34,"y":0.000975,"r":1.3},{"t":"kT tune only","v":5,"b":35,"y":0,"r":0},
      {"t":"kT tune only","v":6,"b":0,"y":8.03,"r":0.872},{"t":"kT tune only","v":6,"b":1,"y":23.05,"r":1.015},{"t":"kT tune only","v":6,"b":2,"y":34.7,"r":1.085},{"t":"kT tune only","v":6,"b":3,"y":40.52,"r":1.121},{"t":"kT tune only","v":6,"b":4,"y":40.87,"r":1.11},{"t":"kT tune only","v":6,"b":5,"y":39.58,"r":1.115},{"t":"kT tune only","v":6,"b":6,"y":36.14,"r":1.079},{"t":"kT tune only","v":6,"b":7,"y":32.24,"r":1.03},{"t":"kT tune only","v":6,"b":8,"y":28.68,"r":0.985},{"t":"kT tune only","v":6,"b":9,"y":25.87,"r":0.951},{"t":"kT tune only","v":6,"b":10,"y":23.11,"r":0.928},{"t":"kT tune only","v":6,"b":11,"y":21.07,"r":0.928},{"t":"kT tune only","v":6,"b":12,"y":18.91,"r":0.895},{"t":"kT tune only","v":6,"b":13,"y":17.62,"r":0.9},{"t":"kT tune only","v":6,"b":14,"y":15.39,"r":0.892},{"t":"kT tune only","v":6,"b":15,"y":13.38,"r":0.898},{"t":"kT tune only","v":6,"b":16,"y":11.87,"r":0.911},{"t":"kT tune only","v":6,"b":17,"y":10.96,"r":0.967},{"t":"kT tune only","v":6,"b":18,"y":8.8,"r":0.931},{"t":"kT tune only","v":6,"b":19,"y":7.2,"r":0.928},{"t":"kT tune only","v":6,"b":20,"y":5.9,"r":0.941},{"t":"kT tune only","v":6,"b":21,"y":4.61,"r":0.95},{"t":"kT tune only","v":6,"b":22,"y":3.46,"r":0.951},{"t":"kT tune only","v":6,"b":23,"y":2.47,"r":0.96},{"t":"kT tune only","v":6,"b":24,"y":1.54,"r":0.974},{"t":"kT tune only","v":6,"b":25,"y":0.68,"r":0.85},{"t":"kT tune only","v":6,"b":26,"y":0.429,"r":1.16},{"t":"kT tune only","v":6,"b":27,"y":0.13,"r":1},{"t":"kT tune only","v":6,"b":28,"y":0.061,"r":1.105},{"t":"kT tune only","v":6,"b":29,"y":0.033,"r":1},{"t":"kT tune only","v":6,"b":30,"y":0.023,"r":1.08},{"t":"kT tune only","v":6,"b":31,"y":0.0143,"r":1.1},{"t":"kT tune only","v":6,"b":32,"y":0.00683,"r":1.177},{"t":"kT tune only","v":6,"b":33,"y":0.00121,"r":0.55},{"t":"kT tune only","v":6,"b":34,"y":0.00045,"r":0.6},{"t":"kT tune only","v":6,"b":35,"y":0,"r":0}
    ]
  },
  "vconcat": [
    {
      "width": 2074,
      "height": 1242,
      "title": {"text": "CMS, 13 TeV, Z → ℓ⁺ℓ⁻", "anchor": "start", "frame": "group", "offset": 59, "dy": 79, "baseline": "alphabetic", "font": "Liberation Serif", "fontSize": 80, "fontWeight": "normal", "color": "black"},
      "resolve": {"axis": {"x": "independent", "y": "independent"}},
      "layer": [
        {
          "data": {"name": "mc"},
          "transform": [
            {"lookup": "b", "from": {"data": {"name": "bins"}, "key": "b", "fields": ["lo", "hi"]}},
            {"fold": ["lo", "hi"], "as": ["edge", "px"]}
          ],
          "mark": {"type": "line", "strokeWidth": 4.2, "clip": true},
          "encoding": {
            "x": {"field": "px", "type": "quantitative", "scale": {"type": "log", "domain": [0.1, 1500]},
              "axis": {"orient": "bottom", "offset": -1242, "values": [0.1,0.2,0.3,0.4,0.5,0.6,0.7,0.8,0.9,1,2,3,4,5,6,7,8,9,10,20,30,40,50,60,70,80,90,100,200,300,400,500,600,700,800,900,1000],
                "tickSize": {"condition": {"test": "abs(log(datum.value)/LN10 - round(log(datum.value)/LN10)) < 0.01", "value": 65}, "value": 29},
                "labels": false, "title": null}},
            "y": {"field": "y", "type": "quantitative", "scale": {"domain": [0, 53], "nice": false, "zero": false},
              "axis": {"orient": "left", "values": [0,10,20,30,40,50], "ticks": false, "domain": false, "labelPadding": 38,
                "title": "dσ / dpₜᶻ [pb/GeV]", "titleX": -228, "titleY": 3, "titleAngle": -90, "titleAlign": "right", "titleBaseline": "alphabetic"}},
            "color": {"field": "t", "type": "nominal",
              "scale": {"domain": ["Data", "CP5", "kT,pToRef tune", "kT tune only"], "range": ["black", "#e83216", "#168a18", "#3366f2"]},
              "legend": {"orient": "none", "legendX": 1147, "legendY": 82, "title": null, "padding": 0,
                "symbolType": "M-16.5,0H16.5", "symbolSize": 100, "symbolStrokeWidth": 4.5,
                "labelFont": "Liberation Serif", "labelFontSize": 80, "labelColor": "black", "labelOffset": 82, "labelLimit": 1000,
                "rowPadding": 13,
                "encode": {"symbols": {"update": {
                  "shape": {"signal": "datum.value === 'Data' ? 'M-16.5,0H16.5M0,-5.4V5.4M2.2,0A2.2,2.2,0,1,1,-2.2,0A2.2,2.2,0,1,1,2.2,0Z' : 'M-16.5,0H16.5'"},
                  "fill": {"signal": "datum.value === 'Data' ? 'black' : 'transparent'"}}}}}},
            "detail": {"field": "v"},
            "order": [{"field": "b", "type": "quantitative"}, {"field": "edge", "type": "ordinal", "sort": "descending"}]
          }
        },
        {
          "data": {"name": "bins"},
          "mark": {"type": "rule", "color": "black", "strokeWidth": 5, "clip": true},
          "encoding": {
            "x": {"field": "lo", "type": "quantitative", "scale": {"type": "log", "domain": [0.1, 1500]},
              "axis": {"orient": "top", "offset": -1242, "values": [0.1,0.2,0.3,0.4,0.5,0.6,0.7,0.8,0.9,1,2,3,4,5,6,7,8,9,10,20,30,40,50,60,70,80,90,100,200,300,400,500,600,700,800,900,1000],
                "tickSize": {"condition": {"test": "abs(log(datum.value)/LN10 - round(log(datum.value)/LN10)) < 0.01", "value": 65}, "value": 29},
                "labels": false, "title": null}},
            "x2": {"field": "hi"},
            "y": {"field": "val", "type": "quantitative", "scale": {"domain": [0, 53], "nice": false, "zero": false},
              "axis": {"orient": "right", "offset": -2074, "values": [0,2,4,6,8,10,12,14,16,18,20,22,24,26,28,30,32,34,36,38,40,42,44,46,48,50,52],
                "tickSize": {"condition": {"test": "datum.value % 10 === 0", "value": 65}, "value": 29},
                "labels": false, "title": null}}
          }
        },
        {
          "data": {"name": "bins"},
          "mark": {"type": "errorbar", "color": "black", "thickness": 5, "clip": true},
          "encoding": {
            "x": {"field": "mid", "type": "quantitative", "scale": {"type": "log", "domain": [0.1, 1500]}, "axis": null},
            "y": {"field": "val", "type": "quantitative", "scale": {"domain": [0, 53], "nice": false, "zero": false}, "axis": null},
            "yError": {"field": "err"}
          }
        },
        {
          "data": {"name": "bins"},
          "mark": {"type": "point", "filled": true, "size": 490, "color": "black", "opacity": 1, "clip": true},
          "encoding": {
            "x": {"field": "mid", "type": "quantitative", "scale": {"type": "log", "domain": [0.1, 1500]}, "axis": null},
            "y": {"field": "val", "type": "quantitative", "scale": {"domain": [0, 53], "nice": false, "zero": false},
              "axis": {"orient": "left", "offset": -2074, "values": [0,2,4,6,8,10,12,14,16,18,20,22,24,26,28,30,32,34,36,38,40,42,44,46,48,50,52],
                "tickSize": {"condition": {"test": "datum.value % 10 === 0", "value": 65}, "value": 29},
                "labels": false, "title": null}}
          }
        }
      ]
    },
    {
      "width": 2074,
      "height": 624,
      "resolve": {"scale": {"x": "independent"}, "axis": {"x": "independent", "y": "independent"}},
      "layer": [
        {
          "data": {"name": "mc"},
          "transform": [
            {"lookup": "b", "from": {"data": {"name": "bins"}, "key": "b", "fields": ["lo", "hi"]}},
            {"fold": ["lo", "hi"], "as": ["edge", "px"]}
          ],
          "mark": {"type": "line", "strokeWidth": 4.2, "clip": true},
          "encoding": {
            "x": {"field": "px", "type": "quantitative", "scale": {"type": "log", "domain": [0.1, 1500]},
              "axis": {"orient": "bottom", "values": [0.1, 1, 10, 100, 1000], "ticks": false, "domain": false,
                "labelExpr": "datum.value < 0.5 ? '10⁻¹' : datum.value < 5 ? '1' : datum.value < 50 ? '10¹' : datum.value < 500 ? '10²' : '10³'",
                "labelFontSize": 72, "labelPadding": 86, "labelBaseline": "alphabetic",
                "title": "pₜᶻ [GeV]", "titleX": 2074, "titleY": 180, "titleAlign": "right", "titleBaseline": "alphabetic"}},
            "y": {"field": "r", "type": "quantitative", "scale": {"domain": [0.75, 1.25], "nice": false, "zero": false},
              "axis": {"orient": "left", "values": [0.8, 0.9, 1, 1.1, 1.2], "format": "~g", "ticks": false, "domain": false, "labelPadding": 38,
                "title": "MC/Data", "titleX": -215, "titleY": 312, "titleAngle": -90, "titleAlign": "center", "titleBaseline": "alphabetic", "titleFontSize": 82}},
            "color": {"field": "t", "type": "nominal",
              "scale": {"domain": ["Data", "CP5", "kT,pToRef tune", "kT tune only"], "range": ["black", "#e83216", "#168a18", "#3366f2"]},
              "legend": null},
            "detail": {"field": "v"},
            "order": [{"field": "b", "type": "quantitative"}, {"field": "edge", "type": "ordinal", "sort": "descending"}]
          }
        },
        {
          "data": {"name": "bins"},
          "mark": {"type": "rule", "color": "black", "strokeWidth": 5, "clip": true},
          "encoding": {
            "x": {"field": "lo", "type": "quantitative", "scale": {"type": "log", "domain": [0.1, 1500]},
              "axis": {"orient": "top", "offset": -624, "values": [0.1,0.2,0.3,0.4,0.5,0.6,0.7,0.8,0.9,1,2,3,4,5,6,7,8,9,10,20,30,40,50,60,70,80,90,100,200,300,400,500,600,700,800,900,1000],
                "tickSize": {"condition": {"test": "abs(log(datum.value)/LN10 - round(log(datum.value)/LN10)) < 0.01", "value": 65}, "value": 29},
                "labels": false,
                "title": "32", "titleX": 9, "titleY": 226, "titleAngle": 0, "titleAlign": "left", "titleBaseline": "alphabetic",
                "titleFont": "Liberation Sans", "titleFontSize": 64}},
            "x2": {"field": "hi"},
            "y": {"field": "r", "type": "quantitative", "scale": {"domain": [0.75, 1.25], "nice": false, "zero": false},
              "axis": {"orient": "right", "offset": -2074, "values": [0.76,0.78,0.8,0.82,0.84,0.86,0.88,0.9,0.92,0.94,0.96,0.98,1,1.02,1.04,1.06,1.08,1.1,1.12,1.14,1.16,1.18,1.2,1.22,1.24],
                "tickSize": {"condition": {"test": "abs(datum.value*10 - round(datum.value*10)) < 0.001", "value": 65}, "value": 29},
                "labels": false, "title": null}}
          }
        },
        {
          "data": {"name": "bins"},
          "mark": {"type": "errorbar", "color": "black", "thickness": 5, "clip": true},
          "encoding": {
            "x": {"field": "mid", "type": "quantitative", "scale": {"type": "log", "domain": [0.1, 1500]}, "axis": null},
            "y": {"field": "r", "type": "quantitative", "scale": {"domain": [0.75, 1.25], "nice": false, "zero": false}, "axis": null},
            "yError": {"field": "rerr"}
          }
        },
        {
          "data": {"name": "bins"},
          "mark": {"type": "point", "filled": true, "size": 490, "color": "black", "opacity": 1, "clip": true},
          "encoding": {
            "x": {"field": "mid", "type": "quantitative", "scale": {"type": "log", "domain": [0.1, 1500]},
              "axis": {"orient": "bottom", "offset": -624, "values": [0.1,0.2,0.3,0.4,0.5,0.6,0.7,0.8,0.9,1,2,3,4,5,6,7,8,9,10,20,30,40,50,60,70,80,90,100,200,300,400,500,600,700,800,900,1000],
                "tickSize": {"condition": {"test": "abs(log(datum.value)/LN10 - round(log(datum.value)/LN10)) < 0.01", "value": 65}, "value": 29},
                "labels": false, "title": null}},
            "y": {"field": "r", "type": "quantitative", "scale": {"domain": [0.75, 1.25], "nice": false, "zero": false},
              "axis": {"orient": "left", "offset": -2074, "values": [0.76,0.78,0.8,0.82,0.84,0.86,0.88,0.9,0.92,0.94,0.96,0.98,1,1.02,1.04,1.06,1.08,1.1,1.12,1.14,1.16,1.18,1.2,1.22,1.24],
                "tickSize": {"condition": {"test": "abs(datum.value*10 - round(datum.value*10)) < 0.001", "value": 65}, "value": 29},
                "labels": false, "title": null}}
          }
        },
        {
          "data": {"values": [{}]},
          "mark": {"type": "rule", "opacity": 0},
          "encoding": {
            "x": {"datum": 0.5, "type": "quantitative", "scale": {"domain": [0, 1], "range": [-338, 2156]},
              "axis": {"orient": "top", "offset": 1496, "domain": true, "domainWidth": 10, "domainColor": "black", "ticks": false, "labels": false, "title": null, "zindex": 0}}
          }
        }
      ]
    }
  ]
}
